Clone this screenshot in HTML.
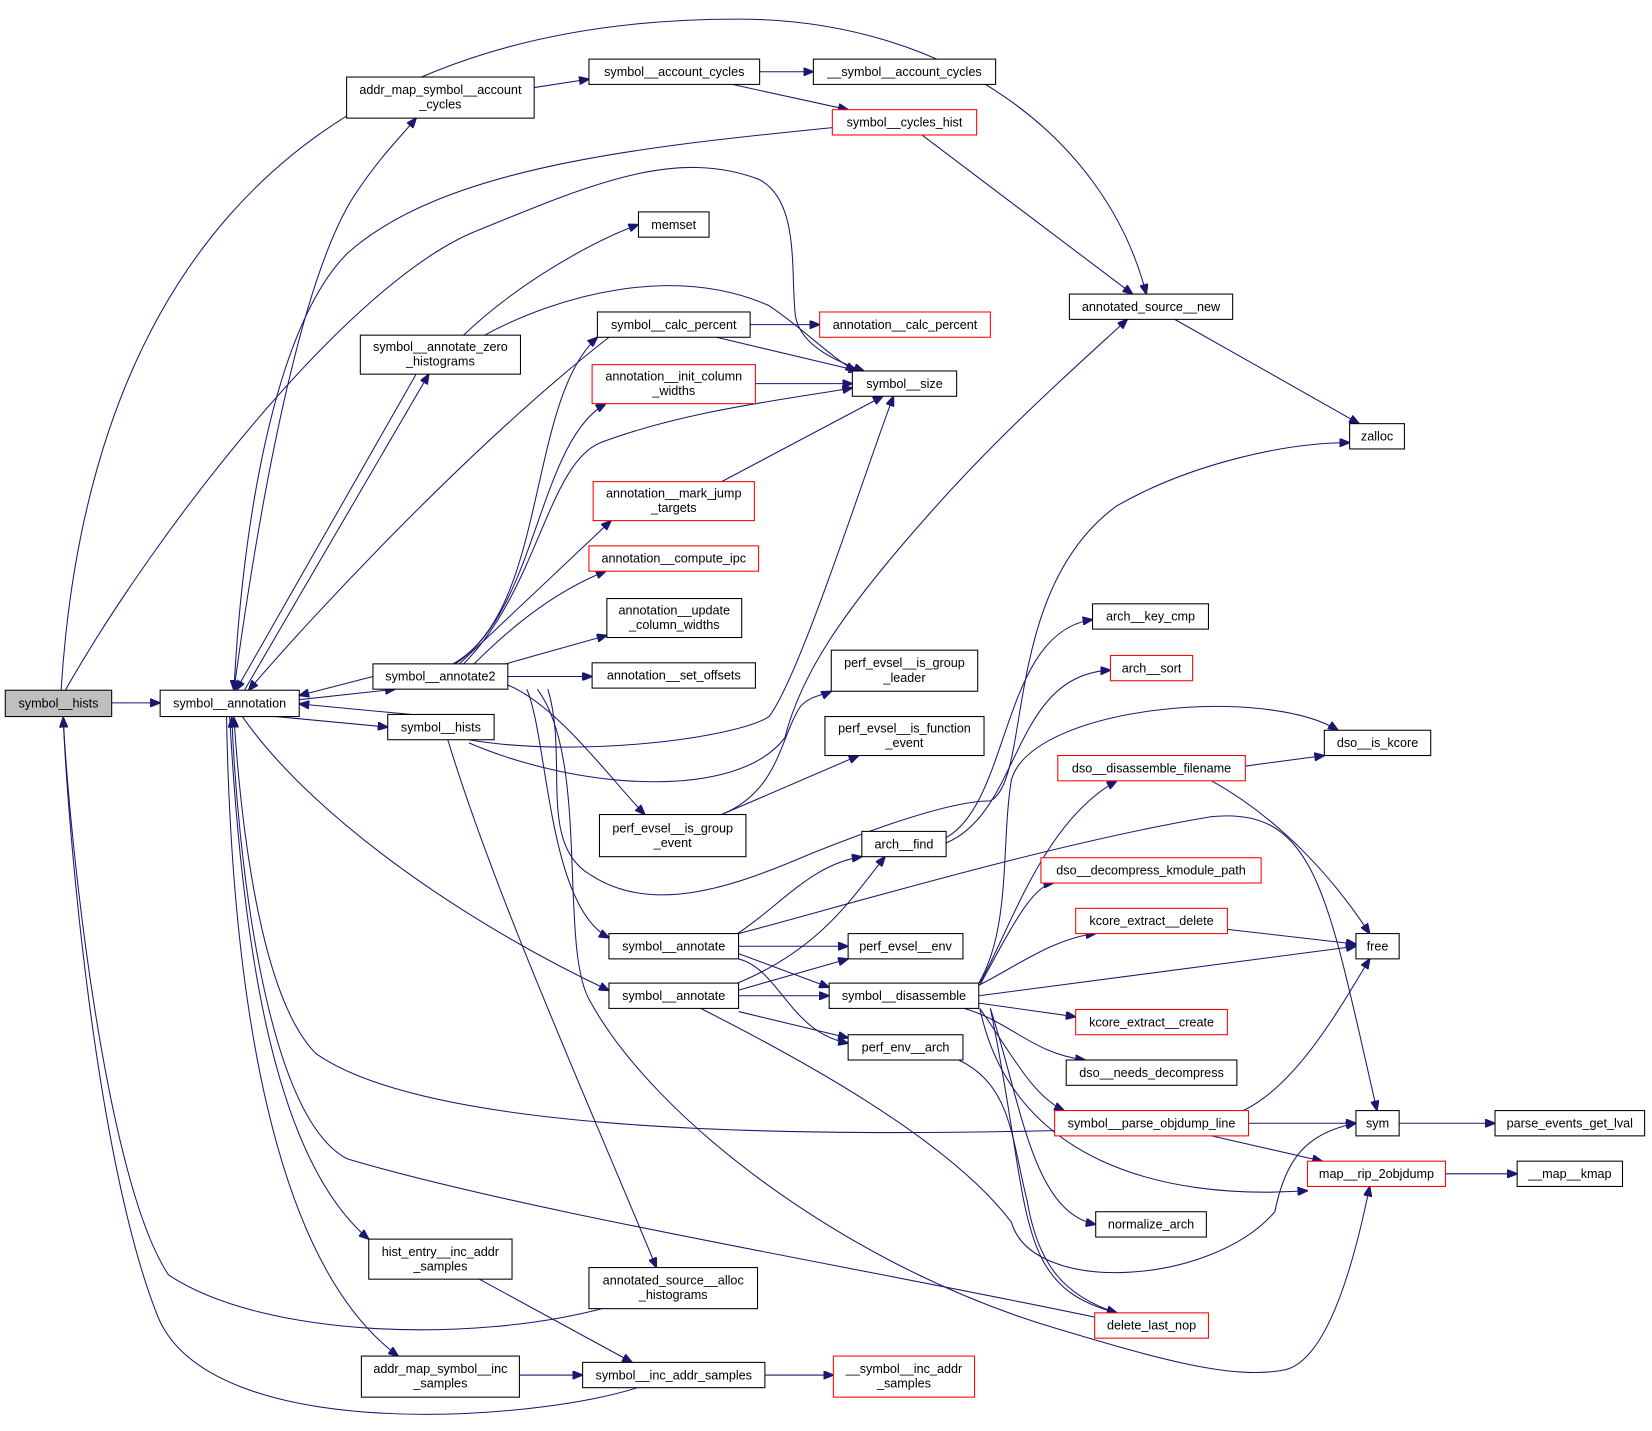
<!DOCTYPE html>
<html><head><meta charset="utf-8"><style>
html,body{margin:0;padding:0;background:#fff;}
svg{display:block;}
text{font-family:"Liberation Sans",sans-serif;font-size:12px;fill:#000;text-anchor:middle;}
.n{fill:#fff;stroke:#000;stroke-width:1;}
.r{fill:#fff;stroke:#ff0000;stroke-width:1;}
.g{fill:#bfbfbf;stroke:#000;stroke-width:1;}
path.e{fill:none;stroke:#191970;stroke-width:1;marker-end:url(#a);}
</style></head><body>
<svg width="1652" height="1431" viewBox="0 0 1568 1358" xmlns="http://www.w3.org/2000/svg">
<defs><marker id="a" markerWidth="10" markerHeight="8" refX="9.5" refY="4" orient="auto" markerUnits="userSpaceOnUse"><path d="M0,0 L10,4 L0,8 z" fill="#191970" stroke="#191970"/></marker></defs>
<g>
<path class="e" d="M106,667 L152,667"/>
<path class="e" d="M58,655 C80,300 250,18 700,18 C900,18 1050,130 1088,279"/>
<path class="e" d="M62,655 C150,500 330,270 450,220 C560,175 640,140 720,170 C760,190 750,260 755,300 C760,330 800,345 820,352"/>
<path class="e" d="M605,1317 C500,1350 200,1370 150,1250 C90,1100 64,780 60,681"/>
<path class="e" d="M575,1241 C450,1275 250,1270 160,1210 C100,1120 66,800 60,681"/>
<path class="e" d="M790,121 C600,140 420,160 330,240 C260,310 230,500 222,655"/>
<path class="e" d="M875,128 L1075,279"/>
<path class="e" d="M1115,303 L1290,402"/>
<path class="e" d="M507,83 L559,75"/>
<path class="e" d="M721,68 L772,68"/>
<path class="e" d="M695,80 L805,104"/>
<path class="e" d="M222,655 C250,450 290,250 340,180 C360,150 380,130 395,112"/>
<path class="e" d="M232,655 L407,355"/>
<path class="e" d="M395,355 L224,655"/>
<path class="e" d="M440,318 C490,270 560,230 606,213"/>
<path class="e" d="M460,318 C530,280 640,250 730,290 C760,310 790,340 812,352"/>
<path class="e" d="M578,320 C450,420 300,580 236,655"/>
<path class="e" d="M354,642 L284,660"/>
<path class="e" d="M284,664 L375,654"/>
<path class="e" d="M262,680 L368,690"/>
<path class="e" d="M390,678 L284,668"/>
<path class="e" d="M230,680 C300,780 450,880 578,940"/>
<path class="e" d="M1001,1073 C700,1080 400,1070 300,1000 C250,950 230,800 222,681"/>
<path class="e" d="M1039,1250 C800,1200 500,1150 330,1100 C250,1060 225,800 220,681"/>
<path class="e" d="M218,680 C230,900 260,1100 350,1176"/>
<path class="e" d="M215,680 C220,950 260,1200 378,1287"/>
<path class="e" d="M455,1214 L600,1293"/>
<path class="e" d="M493,1305 L553,1305"/>
<path class="e" d="M726,1305 L791,1305"/>
<path class="e" d="M425,702 C470,850 560,1050 623,1203"/>
<path class="e" d="M445,702 C550,720 700,700 730,680 C760,640 820,450 848,376"/>
<path class="e" d="M445,705 C550,750 700,760 745,700 C760,640 800,580 880,490 C950,410 1030,340 1070,303"/>
<path class="e" d="M430,630 C520,580 500,380 567,320"/>
<path class="e" d="M432,630 C510,580 510,420 575,383"/>
<path class="e" d="M440,630 C510,560 520,440 570,420 C650,390 740,380 809,368"/>
<path class="e" d="M436,630 L580,494"/>
<path class="e" d="M450,630 C490,590 530,560 575,542"/>
<path class="e" d="M480,630 L576,603"/>
<path class="e" d="M482,642 L562,642"/>
<path class="e" d="M482,650 C530,670 580,740 612,773"/>
<path class="e" d="M520,654 C540,720 510,800 560,830 C620,870 700,840 770,810 C820,790 900,760 940,760 C980,740 950,560 1060,480 C1130,440 1220,420 1281,420"/>
<path class="e" d="M500,654 C520,700 520,860 578,890"/>
<path class="e" d="M510,654 C560,720 530,900 560,950 C620,1060 800,1200 1000,1260 C1100,1290 1170,1310 1220,1300 C1260,1290 1285,1200 1300,1126"/>
<path class="e" d="M685,773 C740,750 740,700 760,670 C770,660 780,660 789,656"/>
<path class="e" d="M685,773 L815,717"/>
<path class="e" d="M700,886 C740,860 770,820 818,813"/>
<path class="e" d="M701,898 L805,898"/>
<path class="e" d="M701,905 L787,937"/>
<path class="e" d="M701,910 C740,920 750,980 805,990"/>
<path class="e" d="M701,886 C800,860 1000,800 1150,775 C1250,765 1260,850 1307,1054"/>
<path class="e" d="M700,933 C780,900 810,850 840,813"/>
<path class="e" d="M700,940 L805,910"/>
<path class="e" d="M701,945 L787,945"/>
<path class="e" d="M701,960 L805,985"/>
<path class="e" d="M665,957 C750,1000 900,1080 960,1160 C980,1230 1150,1220 1210,1150 C1220,1100 1240,1075 1287,1066"/>
<path class="e" d="M930,933 C960,880 990,780 1060,741"/>
<path class="e" d="M930,935 C960,880 980,840 1000,838"/>
<path class="e" d="M929,935 C960,920 1000,890 1040,886"/>
<path class="e" d="M929,945 L1287,898"/>
<path class="e" d="M929,952 L1021,965"/>
<path class="e" d="M915,957 C960,970 980,1000 1030,1006"/>
<path class="e" d="M930,957 C960,1000 980,1040 1010,1054"/>
<path class="e" d="M930,957 C960,1100 1100,1140 1241,1130"/>
<path class="e" d="M940,957 C970,1050 980,1150 1040,1162"/>
<path class="e" d="M940,957 C980,1150 960,1220 1060,1246"/>
<path class="e" d="M898,795 C960,760 950,600 1037,588"/>
<path class="e" d="M898,800 C970,770 960,640 1054,636"/>
<path class="e" d="M929,933 C960,880 950,800 960,740 C980,670 1200,650 1270,693"/>
<path class="e" d="M1182,727 L1257,717"/>
<path class="e" d="M1150,741 C1220,780 1270,840 1300,886"/>
<path class="e" d="M1165,882 L1287,896"/>
<path class="e" d="M1180,1054 C1230,1030 1270,960 1300,910"/>
<path class="e" d="M1185,1066 L1287,1066"/>
<path class="e" d="M1150,1078 L1255,1102"/>
<path class="e" d="M1328,1066 L1419,1066"/>
<path class="e" d="M1372,1114 L1440,1114"/>
<path class="e" d="M910,1006 C960,1030 960,1080 975,1140 C985,1200 1010,1230 1060,1246"/>
<path class="e" d="M712,308 L778,308"/>
<path class="e" d="M680,320 L815,352"/>
<path class="e" d="M717,364 L809,364"/>
<path class="e" d="M685,457 L838,376"/>
</g>
<g>
<rect class="g" x="5" y="655" width="101" height="25"/><text x="55.5" y="671.5">symbol__hists</text>
<rect class="n" x="152" y="655" width="132" height="25"/><text x="218" y="671.5">symbol__annotation</text>
<rect class="n" x="329" y="73" width="178" height="39"/><text x="418" y="89">addr_map_symbol__account</text><text x="418" y="103">_cycles</text>
<rect class="n" x="559" y="56" width="162" height="24"/><text x="640" y="72">symbol__account_cycles</text>
<rect class="n" x="772" y="56" width="173" height="24"/><text x="858.5" y="72">__symbol__account_cycles</text>
<rect class="r" x="790" y="104" width="137" height="24"/><text x="858.5" y="120">symbol__cycles_hist</text>
<rect class="n" x="606" y="201" width="67" height="24"/><text x="639.5" y="217">memset</text>
<rect class="n" x="342" y="318" width="152" height="37"/><text x="418" y="333">symbol__annotate_zero</text><text x="418" y="347">_histograms</text>
<rect class="n" x="567" y="296" width="145" height="24"/><text x="639.5" y="312">symbol__calc_percent</text>
<rect class="r" x="778" y="296" width="162" height="24"/><text x="859" y="312">annotation__calc_percent</text>
<rect class="r" x="562" y="346" width="155" height="37"/><text x="639.5" y="361">annotation__init_column</text><text x="639.5" y="375">_widths</text>
<rect class="n" x="809" y="352" width="99" height="24"/><text x="858.5" y="368">symbol__size</text>
<rect class="n" x="1015" y="279" width="155" height="24"/><text x="1092.5" y="295">annotated_source__new</text>
<rect class="n" x="1281" y="402" width="52" height="24"/><text x="1307" y="418">zalloc</text>
<rect class="r" x="563" y="457" width="153" height="37"/><text x="639.5" y="472">annotation__mark_jump</text><text x="639.5" y="486">_targets</text>
<rect class="r" x="559" y="518" width="161" height="24"/><text x="639.5" y="534">annotation__compute_ipc</text>
<rect class="n" x="576" y="568" width="128" height="37"/><text x="640" y="583">annotation__update</text><text x="640" y="597">_column_widths</text>
<rect class="n" x="562" y="629" width="155" height="24"/><text x="639.5" y="645">annotation__set_offsets</text>
<rect class="n" x="354" y="630" width="128" height="24"/><text x="418" y="646">symbol__annotate2</text>
<rect class="n" x="368" y="678" width="101" height="24"/><text x="418.5" y="694">symbol__hists</text>
<rect class="n" x="789" y="617" width="139" height="39"/><text x="858.5" y="633">perf_evsel__is_group</text><text x="858.5" y="647">_leader</text>
<rect class="n" x="783" y="680" width="151" height="37"/><text x="858.5" y="695">perf_evsel__is_function</text><text x="858.5" y="709">_event</text>
<rect class="n" x="1037" y="573" width="110" height="24"/><text x="1092" y="589">arch__key_cmp</text>
<rect class="r" x="1054" y="622" width="78" height="24"/><text x="1093" y="638">arch__sort</text>
<rect class="n" x="1257" y="693" width="101" height="24"/><text x="1307.5" y="709">dso__is_kcore</text>
<rect class="r" x="1004" y="717" width="178" height="24"/><text x="1093" y="733">dso__disassemble_filename</text>
<rect class="n" x="569" y="773" width="139" height="40"/><text x="638.5" y="790">perf_evsel__is_group</text><text x="638.5" y="804">_event</text>
<rect class="n" x="818" y="789" width="80" height="24"/><text x="858" y="805">arch__find</text>
<rect class="r" x="988" y="814" width="209" height="24"/><text x="1092.5" y="830">dso__decompress_kmodule_path</text>
<rect class="r" x="1021" y="862" width="144" height="24"/><text x="1093" y="878">kcore_extract__delete</text>
<rect class="n" x="1287" y="886" width="41" height="24"/><text x="1307.5" y="902">free</text>
<rect class="n" x="578" y="886" width="123" height="24"/><text x="639.5" y="902">symbol__annotate</text>
<rect class="n" x="805" y="886" width="109" height="24"/><text x="859.5" y="902">perf_evsel__env</text>
<rect class="n" x="578" y="933" width="123" height="24"/><text x="639.5" y="949">symbol__annotate</text>
<rect class="n" x="787" y="933" width="142" height="24"/><text x="858" y="949">symbol__disassemble</text>
<rect class="r" x="1021" y="958" width="144" height="24"/><text x="1093" y="974">kcore_extract__create</text>
<rect class="n" x="805" y="982" width="109" height="24"/><text x="859.5" y="998">perf_env__arch</text>
<rect class="n" x="1012" y="1006" width="162" height="24"/><text x="1093" y="1022">dso__needs_decompress</text>
<rect class="r" x="1001" y="1054" width="184" height="24"/><text x="1093" y="1070">symbol__parse_objdump_line</text>
<rect class="n" x="1287" y="1054" width="41" height="24"/><text x="1307.5" y="1070">sym</text>
<rect class="n" x="1419" y="1054" width="142" height="24"/><text x="1490" y="1070">parse_events_get_lval</text>
<rect class="r" x="1241" y="1102" width="131" height="24"/><text x="1306.5" y="1118">map__rip_2objdump</text>
<rect class="n" x="1440" y="1102" width="100" height="24"/><text x="1490" y="1118">__map__kmap</text>
<rect class="n" x="1040" y="1150" width="105" height="24"/><text x="1092.5" y="1166">normalize_arch</text>
<rect class="n" x="350" y="1176" width="136" height="38"/><text x="418" y="1192">hist_entry__inc_addr</text><text x="418" y="1206">_samples</text>
<rect class="n" x="559" y="1203" width="160" height="39"/><text x="639" y="1219">annotated_source__alloc</text><text x="639" y="1233">_histograms</text>
<rect class="r" x="1039" y="1246" width="108" height="24"/><text x="1093" y="1262">delete_last_nop</text>
<rect class="n" x="343" y="1287" width="150" height="39"/><text x="418" y="1303">addr_map_symbol__inc</text><text x="418" y="1317">_samples</text>
<rect class="n" x="553" y="1293" width="173" height="24"/><text x="639.5" y="1309">symbol__inc_addr_samples</text>
<rect class="r" x="791" y="1287" width="134" height="39"/><text x="858" y="1303">__symbol__inc_addr</text><text x="858" y="1317">_samples</text>
</g>
</svg>
</body></html>
